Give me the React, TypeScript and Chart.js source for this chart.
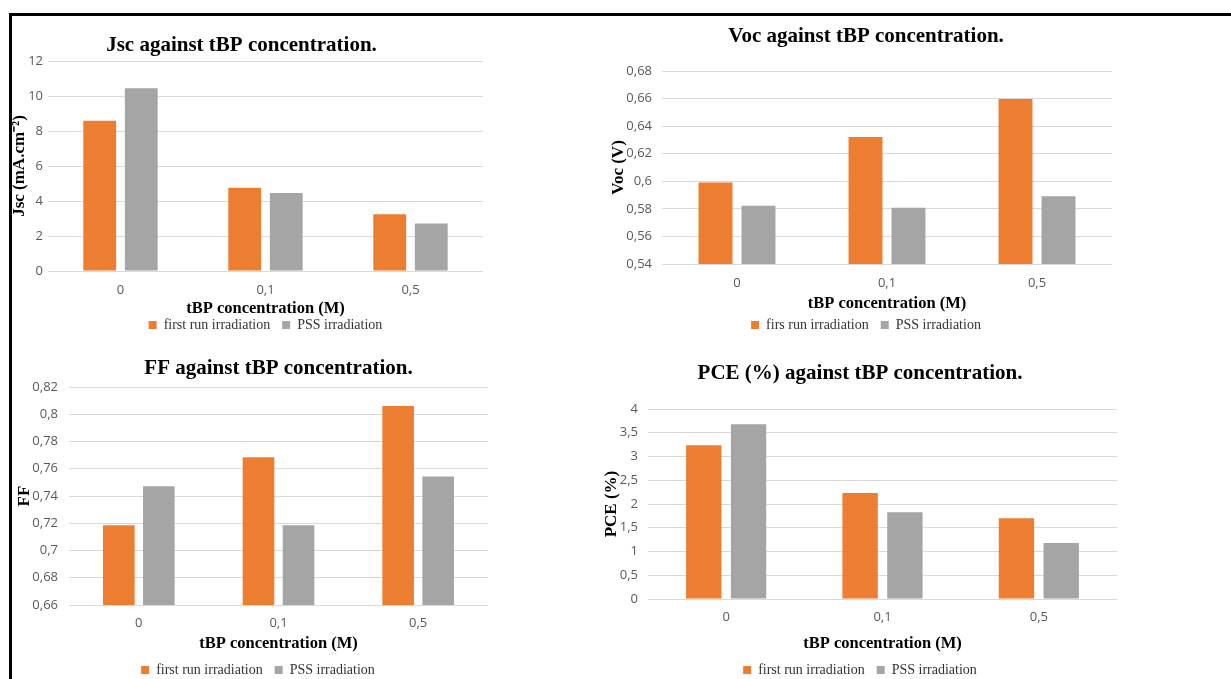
import React, { useEffect, useRef } from 'react';
import Chart from 'chart.js/auto';

// ---- data ----
const categories = ['0', '0,1', '0,5'];
const jscFirst = [8.59, 4.76, 3.24];
const jscPss = [10.44, 4.46, 2.72];
const vocFirst = [0.5991, 0.6322, 0.6597];
const vocPss = [0.5822, 0.5808, 0.5892];
const ffFirst = [0.7186, 0.7685, 0.806];
const ffPss = [0.7472, 0.7186, 0.7543];
const pceFirst = [3.237, 2.234, 1.702];
const pcePss = [3.678, 1.828, 1.177];

const seriesNames = ['first run irradiation', 'PSS irradiation'];
const seriesNamesVoc = ['firs run irradiation', 'PSS irradiation'];
const xTitle = 'tBP concentration (M)';

const ORANGE = '#ED7D31';
const GRAY = '#A5A5A5';

const SERIF = "'Liberation Serif', 'Times New Roman', serif";
const SANS = "'Liberation Sans Narrow', 'Open Sans', sans-serif";

type Spec = {
  title: string;
  yTitle: string;
  names: string[];
  first: number[];
  pss: number[];
  yMin: number;
  yMax: number;
  yStep: number;
  ox: number;
  oy: number;
  W: number;
  H: number;
  padL: number;
  padR: number;
  yAxisW: number;
  yTitlePad: number;
  yTickPad: number;
  titlePadTop: number;
  titlePadBottom: number;
  titleFull: boolean;
  xAxisH: number;
  xTickPad: number;
  xTitlePadBottom: number;
  legendFull: boolean;
};

const specs: Spec[] = [
  {
    title: 'Jsc against tBP concentration.',
    yTitle: 'Jsc (mA.cm\u207B\u00B2)',
    names: seriesNames,
    first: jscFirst,
    pss: jscPss,
    yMin: 0, yMax: 12, yStep: 2,
    ox: 0, oy: 0, W: 600, H: 342,
    padL: 0, padR: 117, yAxisW: 48, yTitlePad: 9.8, yTickPad: 5,
    titlePadTop: 33.4, titlePadBottom: 2.4, titleFull: true,
    xAxisH: 35, xTickPad: 11.2, xTitlePadBottom: -12.9, legendFull: false,
  },
  {
    title: 'Voc against tBP concentration.',
    yTitle: 'Voc (V)',
    names: seriesNamesVoc,
    first: vocFirst,
    pss: vocPss,
    yMin: 0.54, yMax: 0.68, yStep: 0.02,
    ox: 600, oy: 0, W: 631, H: 342,
    padL: 20, padR: 119, yAxisW: 42, yTitlePad: -11.2, yTickPad: 10,
    titlePadTop: 24.4, titlePadBottom: 21.4, titleFull: true,
    xAxisH: 42, xTickPad: 11.2, xTitlePadBottom: -7.9, legendFull: true,
  },
  {
    title: 'FF against tBP concentration.',
    yTitle: 'FF',
    names: seriesNames,
    first: ffFirst,
    pss: ffPss,
    yMin: 0.66, yMax: 0.82, yStep: 0.02,
    ox: 0, oy: 340, W: 600, H: 347,
    padL: 28, padR: 112, yAxisW: 41, yTitlePad: -13.2, yTickPad: 11,
    titlePadTop: 16.4, titlePadBottom: 5.4, titleFull: false,
    xAxisH: 46, xTickPad: 10.2, xTitlePadBottom: -2.9, legendFull: true,
  },
  {
    title: 'PCE (%) against tBP concentration.',
    yTitle: 'PCE (%)',
    names: seriesNames,
    first: pceFirst,
    pss: pcePss,
    yMin: 0, yMax: 4, yStep: 0.5,
    ox: 600, oy: 340, W: 631, H: 347,
    padL: 3, padR: 114, yAxisW: 45, yTitlePad: -1.2, yTickPad: 10,
    titlePadTop: 21.4, titlePadBottom: 22.4, titleFull: true,
    xAxisH: 52, xTickPad: 10.2, xTitlePadBottom: -2.9, legendFull: true,
  },
];

const fmt = (v: number | string) => {
  const n = Number(Number(v).toFixed(4));
  return String(n).replace('.', ',');
};

function BarPanel({ spec }: { spec: Spec }) {
  const ref = useRef<HTMLCanvasElement | null>(null);
  useEffect(() => {
    if (!ref.current) return;
    const chart = new Chart(ref.current, {
      type: 'bar',
      data: {
        labels: categories,
        datasets: [
          {
            label: spec.names[0],
            data: spec.first,
            backgroundColor: ORANGE,
            categoryPercentage: 0.573,
            barPercentage: 0.79,
          },
          {
            label: spec.names[1],
            data: spec.pss,
            backgroundColor: GRAY,
            categoryPercentage: 0.573,
            barPercentage: 0.79,
          },
        ],
      },
      options: {
        responsive: false,
        animation: false,
        layout: { padding: { left: spec.padL, right: spec.padR, top: 0, bottom: 0 } },
        plugins: {
          title: {
            display: true,
            text: spec.title,
            color: '#000',
            fullSize: spec.titleFull,
            font: { family: SERIF, size: 21, weight: 'bold', lineHeight: 1.2 },
            padding: { top: spec.titlePadTop, bottom: spec.titlePadBottom },
          },
          legend: {
            display: true,
            position: 'bottom',
            fullSize: spec.legendFull,
            labels: {
              boxWidth: 8,
              boxHeight: 8,
              padding: 12,
              color: '#333',
              font: { family: SERIF, size: 14, lineHeight: 1.2 },
            },
          },
          tooltip: { enabled: false },
        },
        scales: {
          x: {
            grid: { display: false, drawTicks: false, tickLength: 0 },
            border: { display: false },
            ticks: {
              color: '#595959',
              padding: spec.xTickPad,
              font: { family: SANS, size: 13, lineHeight: 1.2 },
            },
            title: {
              display: true,
              text: xTitle,
              color: '#000',
              font: { family: SERIF, size: 16.5, weight: 'bold', lineHeight: 1.2 },
              padding: { top: 0, bottom: spec.xTitlePadBottom },
            },
            afterFit: (scale: any) => {
              scale.height = spec.xAxisH;
            },
          },
          y: {
            min: spec.yMin,
            max: spec.yMax,
            grid: { color: '#D9D9D9', drawTicks: false, tickLength: 0 },
            border: { display: false },
            ticks: {
              stepSize: spec.yStep,
              color: '#595959',
              padding: spec.yTickPad,
              font: { family: SANS, size: 13, lineHeight: 1.2 },
              callback: (v: any) => fmt(v),
            },
            title: {
              display: true,
              text: spec.yTitle,
              color: '#000',
              font: { family: SERIF, size: 17, weight: 'bold', lineHeight: 1.2 },
              padding: { top: spec.yTitlePad, bottom: 0 },
            },
            afterFit: (scale: any) => {
              scale.width = spec.yAxisW;
            },
          },
        },
      },
    } as any);
    return () => chart.destroy();
  }, [spec]);
  return (
    <canvas
      ref={ref}
      width={spec.W}
      height={spec.H}
      style={{ position: 'absolute', left: spec.ox, top: spec.oy, width: spec.W, height: spec.H }}
    />
  );
}

export default function App() {
  return (
    <div
      style={{
        position: 'fixed',
        left: 0,
        top: 0,
        width: 1231,
        height: 679,
        overflow: 'hidden',
        background: '#fff',
      }}
    >
      {specs.map((s, i) => (
        <BarPanel key={i} spec={s} />
      ))}
      <div style={{ position: 'absolute', left: 9, top: 13, width: 1222, height: 3, background: '#000' }} />
      <div style={{ position: 'absolute', left: 9, top: 13, width: 3, height: 666, background: '#000' }} />
    </div>
  );
}
